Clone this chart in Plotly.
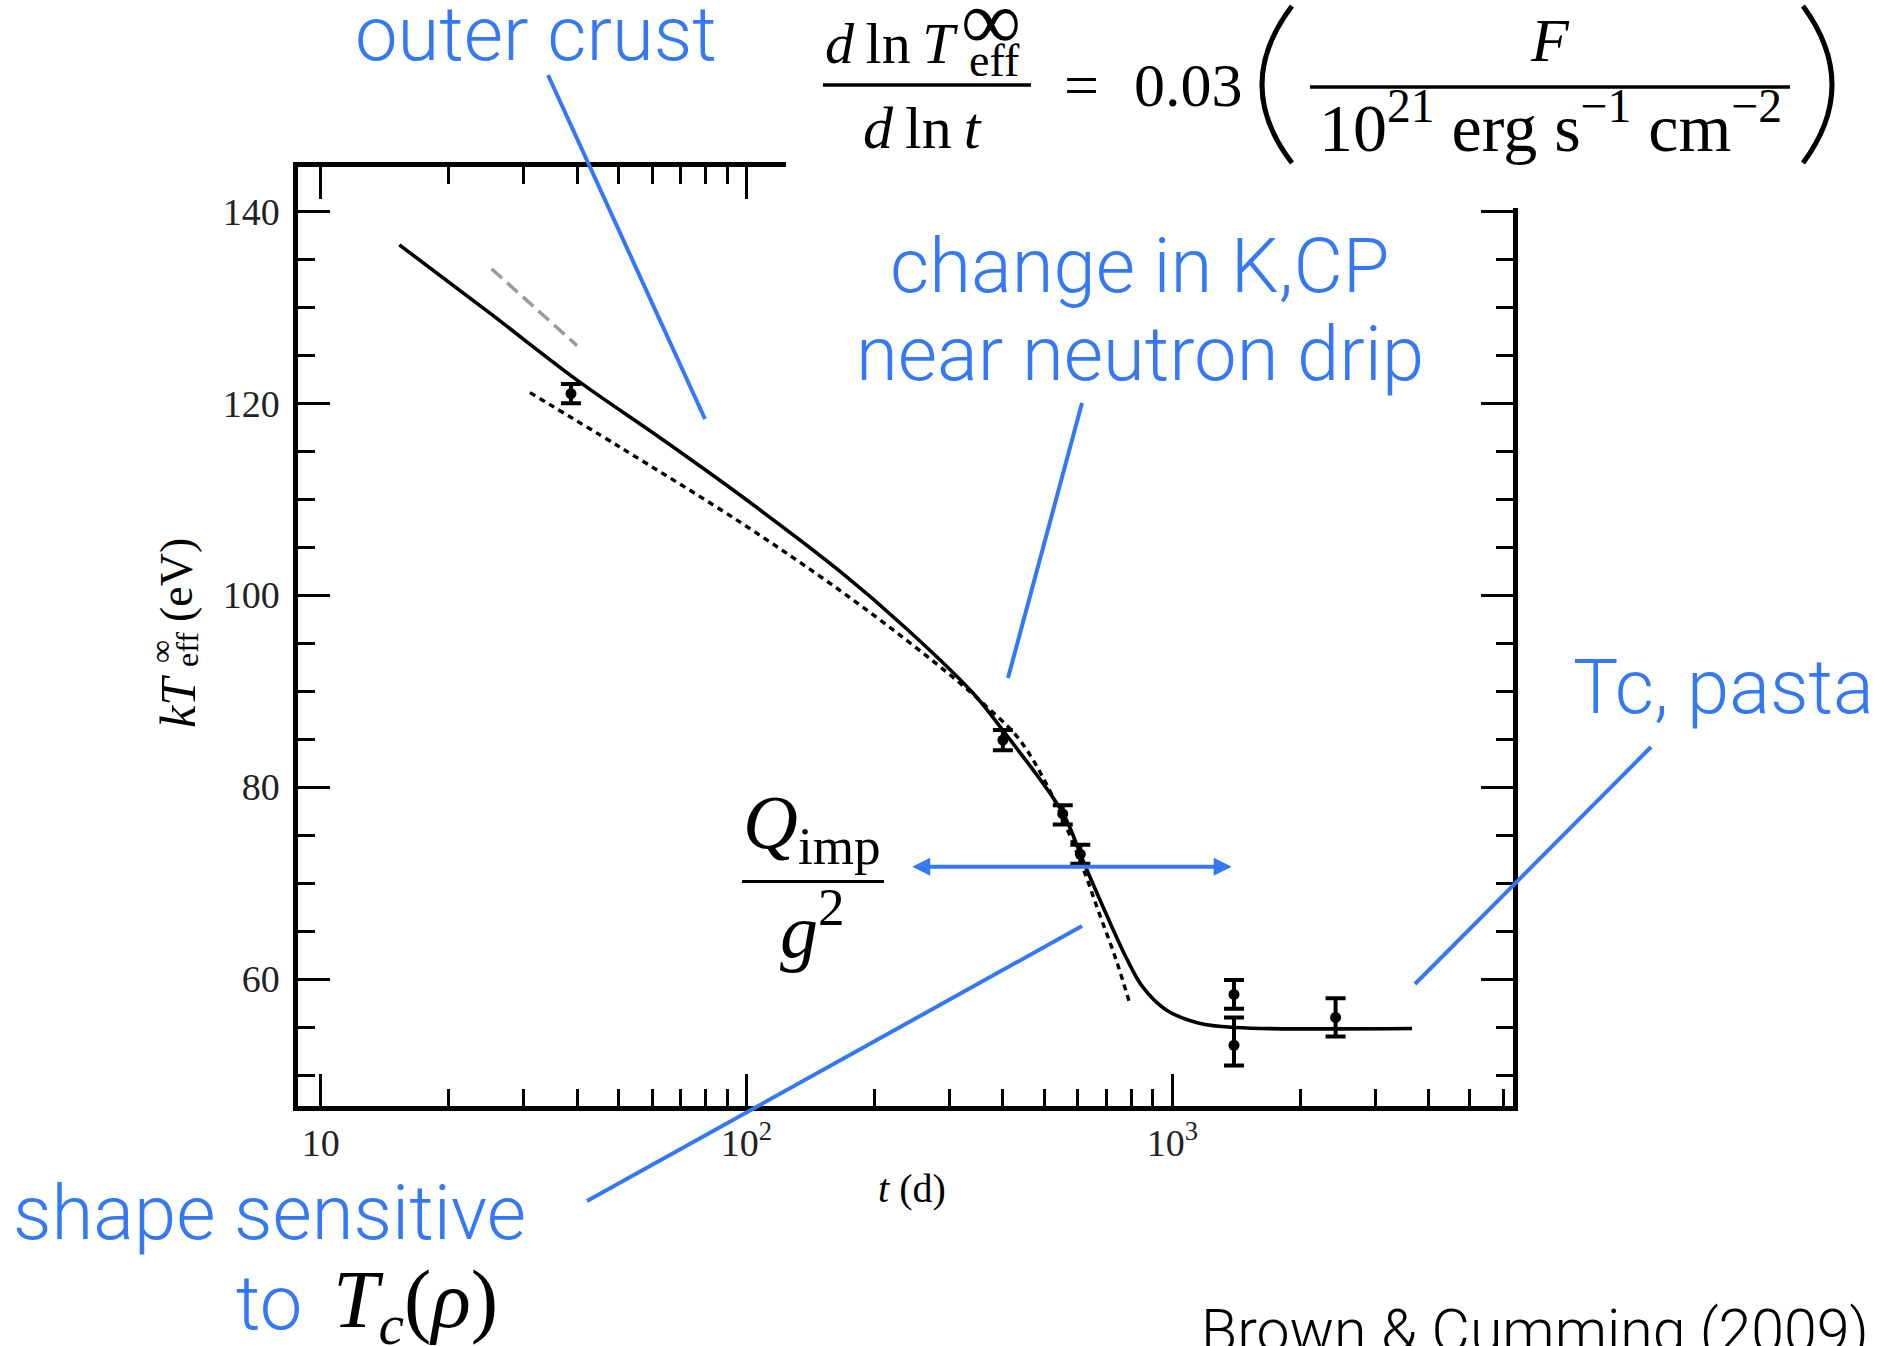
import plotly.graph_objects as go

# ---------------- data ----------------
# model: solid curve (t in days, kT_eff in eV)
model_t = [15.3, 25.1, 40.0, 63.1, 96.7, 165.6, 237.6, 340.3, 400, 553, 616, 699, 778, 851, 966, 1156, 1409, 3656]
model_kT = [136.5, 129.3, 122.4, 116.3, 110.4, 102.5, 96.5, 89.8, 85.9, 77.3, 72.4, 66.8, 62.3, 59.2, 56.8, 55.4, 54.95, 54.85]

# dotted curve
dot_t = [31.0, 50.1, 96.6, 165.6, 237.6, 311, 366, 436.5, 514.6, 615, 674, 738, 792.5]
dot_kT = [121.1, 115.5, 107.6, 100.5, 95.3, 91.15, 88.4, 85.0, 79.7, 71.7, 66.8, 62.0, 57.6]

# grey dashed segment
grey_t = [25.2, 40.0]
grey_kT = [134.0, 126.0]

# observations
obs_t = [38.7, 400, 553, 608, 1396, 1396, 2418]
obs_kT = [121.0, 84.9, 77.2, 73.0, 58.4, 53.1, 56.0]
obs_err_plus = [1.0, 1.05, 0.9, 1.0, 1.5, 2.9, 2.0]
obs_err_minus = [1.0, 1.05, 1.1, 1.0, 1.5, 2.1, 2.0]

x_major = [10, 100, 1000]
x_major_text = ["10", "10<sup>2</sup>", "10<sup>3</sup>"]
x_minor = [20, 30, 40, 50, 60, 70, 80, 90, 200, 300, 400, 500, 600, 700, 800, 900,
           2000, 3000, 4000, 5000, 6000]
y_major = [60, 80, 100, 120, 140]

# ---------------- layout geometry (pixels) ----------------
W, H = 1896, 1346
L, R, T, B = 298, 1513, 167, 1106
BLUE = "#3478F6"
SERIF = "Liberation Serif"
SANS = "Roboto"


def px(x, y):
    return (x - L) / (R - L), (B - y) / (B - T)


fig = go.Figure()
fig.add_trace(go.Scatter(x=grey_t, y=grey_kT, mode="lines",
                         line=dict(color="#9a9a9a", width=3.5, dash="14px,7px")))
fig.add_trace(go.Scatter(x=dot_t, y=dot_kT, mode="lines",
                         line=dict(color="black", width=3.4, dash="6px,5px", shape="spline")))
fig.add_trace(go.Scatter(x=model_t, y=model_kT, mode="lines",
                         line=dict(color="black", width=3.6, shape="spline")))
fig.add_trace(go.Scatter(x=obs_t, y=obs_kT, mode="markers",
                         marker=dict(color="black", size=11),
                         error_y=dict(type="data", symmetric=False, array=obs_err_plus,
                                      arrayminus=obs_err_minus, color="black",
                                      thickness=4, width=10)))

axis_common = dict(showline=True, linecolor="black", linewidth=4.5, mirror="ticks",
                   ticks="inside", ticklen=32, tickwidth=2.5, tickcolor="black",
                   showgrid=False, zeroline=False,
                   tickfont=dict(family=SERIF, size=38, color="#222"))

fig.update_layout(
    width=W, height=H, margin=dict(l=L, r=W - R, t=T, b=H - B, pad=0),
    paper_bgcolor="white", plot_bgcolor="white", showlegend=False,
    xaxis=dict(type="log", range=[0.9467, 3.8001], tickvals=x_major, ticktext=x_major_text,
               minor=dict(tickvals=x_minor, ticks="inside", ticklen=17, tickwidth=2.5,
                          tickcolor="black", showgrid=False),
               ticklabelstandoff=0, **axis_common),
    yaxis=dict(range=[46.77, 144.61], tickvals=y_major,
               minor=dict(dtick=5, ticks="inside", ticklen=17, tickwidth=2.5,
                          tickcolor="black", showgrid=False),
               ticklabelstandoff=6, **axis_common),
)

shapes = []
annots = []


def line(x0, y0, x1, y1, color=BLUE, width=4):
    a, b = px(x0, y0)
    c, d = px(x1, y1)
    shapes.append(dict(type="line", xref="paper", yref="paper", x0=a, y0=b, x1=c, y1=d,
                       line=dict(color=color, width=width), layer="above"))


def text(x, y, s, size, color="black", family=SERIF, weight=None, xanchor="center",
         yanchor="middle", angle=0):
    a, b = px(x, y)
    f = dict(family=family, size=size, color=color)
    if weight:
        f["weight"] = weight
    annots.append(dict(x=a, y=b, xref="paper", yref="paper", text=s, showarrow=False,
                       font=f, xanchor=xanchor, yanchor=yanchor, textangle=angle))


# white box of the pasted equation hiding the top-right of the frame
a0, b0 = px(786, -5)
a1, b1 = px(1900, 208)
shapes.append(dict(type="rect", xref="paper", yref="paper", x0=a0, y0=b0, x1=a1, y1=b1,
                   fillcolor="white", line=dict(width=0), layer="above"))

# blue pointer lines
line(548, 75, 705, 419)
line(1082, 403, 1008, 678)
line(1651, 747, 1415, 984)
line(587, 1201, 1082, 926)

# double arrow
xa, ya = px(1231.7, 866.7)
annots.append(dict(x=xa, y=ya, xref="paper", yref="paper", ax=-321, ay=0, axref="pixel",
                   ayref="pixel", text="", showarrow=True, arrowhead=2, startarrowhead=2,
                   arrowside="end+start", arrowsize=0.9, startarrowsize=0.9, arrowwidth=4,
                   arrowcolor=BLUE, standoff=0, startstandoff=0))

# blue labels
BS = 76
text(536, 34, "outer crust", BS, BLUE, SANS, 300)
text(1140, 266, "change in K,CP", BS, BLUE, SANS, 300)
text(1140, 354, "near neutron drip", BS, BLUE, SANS, 300)
text(1723, 687, "Tc, pasta", BS, BLUE, SANS, 300)
text(269, 1213, "shape sensitive", BS, BLUE, SANS, 300)
text(269, 1303, "to", BS, BLUE, SANS, 300)
text(415, 1305, "<i>T</i><sub><i>c</i></sub>(<i>ρ</i>)", 82, "black", SERIF)
text(1535, 1330, "Brown &amp; Cumming (2009)", 59, "black", SANS, 300)

# Q_imp / g^2
text(812, 828, "<i>Q</i><sub>imp</sub>", 76, "black", SERIF)
line(742, 881.5, 884, 881.5, "black", 3)
text(812, 925, "<i>g</i><sup>2</sup>", 76, "black", SERIF)

# equation
EQ = 58
text(823, 44, "<i>d</i>\u2009ln\u2009<i>T</i>", EQ, "black", SERIF, xanchor="left")
text(991, 21, "∞", 84, "black", SERIF)
text(994, 61, "eff", 46, "black", SERIF)
line(823, 85, 1031, 85, "black", 3.5)
text(922, 128, "<i>d</i>\u2009ln\u2009<i>t</i>", EQ + 2, "black", SERIF)
text(1081, 85, "=", EQ + 4, "black", SERIF)
text(1188, 85, "0.03", EQ + 4, "black", SERIF)
text(1550, 40, "<i>F</i>", EQ + 4, "black", SERIF)
line(1310, 87, 1790, 87, "black", 3.5)
text(1550, 123, "10<sup>21</sup> erg s<sup>−1</sup> cm<sup>−2</sup>", 68, "black", SERIF)


def paren(x0, y0, xc, yc, x1, y1):
    p0 = px(x0, y0)
    pc = px(xc, yc)
    p1 = px(x1, y1)
    path = f"M {p0[0]},{p0[1]} Q {pc[0]},{pc[1]} {p1[0]},{p1[1]}"
    shapes.append(dict(type="path", xref="paper", yref="paper", path=path,
                       line=dict(color="black", width=5), layer="above"))


paren(1292, 6, 1232, 85, 1292, 163)
paren(1803, 6, 1861, 85, 1803, 163)

# axis titles
text(912, 1188, "<i>t</i> (d)", 40, "black", SERIF)
text(178, 702, "<i>kT</i>", 50, "black", SERIF, angle=-90)
text(161, 652, "∞", 32, "black", SERIF, angle=-90)
text(187, 650, "eff", 32, "black", SERIF, angle=-90)
text(176, 580, "(eV)", 46, "black", SERIF, angle=-90)

fig.update_layout(shapes=shapes, annotations=annots)
fig.write_html("out.html")
